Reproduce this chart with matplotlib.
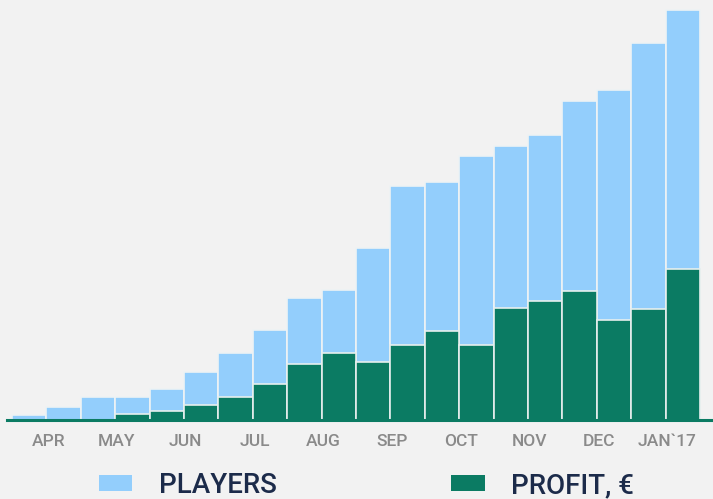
import matplotlib
matplotlib.use('Agg')
import matplotlib.pyplot as plt
import numpy as np

# monthly data (two bars per month, Apr 2016 -> Jan 2017)
players = [5, 13, 23, 23, 31, 48, 67, 90, 122, 130, 172, 234, 238, 264, 274, 285, 319, 330, 377, 410]
profit = [0, 0, 0, 6, 9, 15, 23, 36, 56, 67, 58, 75, 89, 75, 112, 119, 129, 100, 111, 151]
months = ['APR', 'MAY', 'JUN', 'JUL', 'AUG', 'SEP', 'OCT', 'NOV', 'DEC', 'JAN`17']

bg = '#f2f2f2'
blue = '#93cefc'
green = '#0b7b63'

fig = plt.figure(figsize=(7.13, 4.99), dpi=100, facecolor=bg)
ax = fig.add_axes([0.0098, 0.158, 0.9902, 0.832], facecolor=bg)

x = np.arange(len(players))
ax.bar(x, players, width=1.0, color=blue, edgecolor='#eef3f4', linewidth=1.2, label='PLAYERS')
ax.bar(x, profit, width=1.0, color=green, edgecolor='#e6efee', linewidth=1.2, label='PROFIT, €')

ax.set_xlim(-0.645, 19.878)
ax.set_ylim(0, 415)
ax.axhline(0, color=green, linewidth=2.2, clip_on=False)

ax.set_xticks(np.arange(len(months)) * 2 + 0.55)
ax.set_xticklabels(months, fontsize=12.5, color='#8a8a8a', family='Roboto', fontweight='medium')
ax.tick_params(axis='x', length=0, pad=10)
ax.set_yticks([])
for s in ax.spines.values():
    s.set_visible(False)

leg = ax.legend(loc='center', bbox_to_anchor=(0.514, 0.027), bbox_transform=fig.transFigure,
                ncol=2, frameon=False, prop={'family': 'Roboto', 'size': 20, 'weight': 'medium'},
                handlelength=1.19, handleheight=0.47, handletextpad=0.95, columnspacing=6.3)
for t in leg.get_texts():
    t.set_color('#1c2b4a')
for h in leg.legend_handles:
    h.set_edgecolor('none')

fig.savefig('out.png', dpi=100, facecolor=bg)
